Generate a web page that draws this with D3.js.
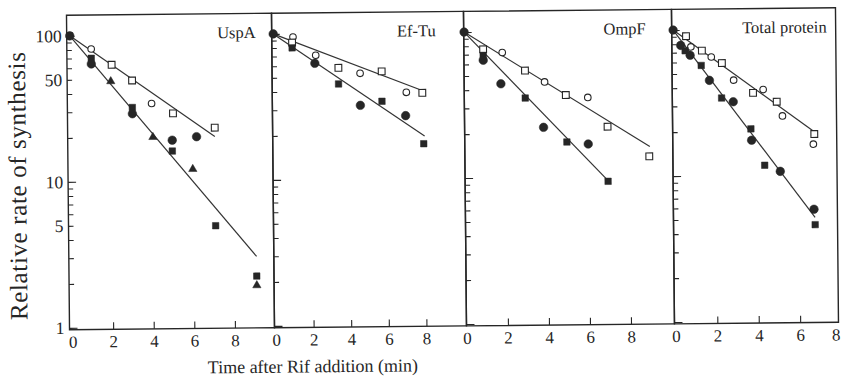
<!DOCTYPE html>
<html>
<head>
<meta charset="utf-8">
<script src="https://cdn.jsdelivr.net/npm/d3@7"></script>
<style>
  body { margin: 0; background: #fff; }
  svg { display: block; font-family: "Liberation Serif", "DejaVu Serif", serif; }
</style>
</head>
<body>
<svg width="842" height="381"></svg>
<script>
// values: [time after Rif (min), relative rate of synthesis]
const panelNames = ["UspA", "Ef-Tu", "OmpF", "Total protein"];
const xTickValues = [0, 2, 4, 6, 8];
const yTickLabels = [100, 50, 10, 5, 1];

const uspaOpenCircle = [[1.05, 81], [4.0, 34]];
const uspaOpenSquare = [[2.05, 63], [3.05, 49], [5.05, 29], [7.1, 23]];
const uspaFilledCircle = [[0, 100], [1.05, 64], [3.05, 29], [5.0, 19], [6.2, 20]];
const uspaFilledSquare = [[0, 100], [1.05, 70], [3.05, 32], [5.0, 16], [7.1, 4.9], [9.1, 2.2]];
const uspaTriangle = [[2.0, 48.5], [4.05, 20], [6.0, 12], [9.1, 1.9]];
const uspaOpenFit = [[0, 100], [7.1, 20]];
const uspaFilledFit = [[0, 100], [9.1, 3.0]];

const efOpenCircle = [[1.05, 95], [2.25, 71], [4.6, 53], [7.05, 39]];
const efOpenSquare = [[1.0, 87], [3.45, 58], [5.75, 54.5], [7.9, 38.6]];
const efFilledCircle = [[0, 100], [2.2, 62.5], [4.6, 32], [7.0, 27]];
const efFilledSquare = [[1.0, 80], [3.45, 45], [5.75, 34], [7.95, 17.3]];
const efOpenFit = [[0, 100], [8.0, 39.6]];
const efFilledFit = [[0, 100], [8.0, 19.5]];

const ompOpenCircle = [[1.85, 72], [3.9, 45], [6.0, 35]];
const ompOpenSquare = [[0.92, 76], [2.95, 54], [4.93, 36.5], [6.95, 22], [8.97, 13.7]];
const ompFilledCircle = [[0, 100], [0.92, 64], [1.77, 44], [3.83, 22], [6.0, 16.8]];
const ompFilledSquare = [[0.92, 69], [2.95, 35], [4.96, 17.4], [6.95, 9.3]];
const ompOpenFit = [[0, 100], [9.0, 16]];
const ompFilledFit = [[0, 100], [6.95, 9.4]];

const totOpenCircle = [[0.85, 76.5], [1.83, 65], [2.9, 45], [4.32, 38.6], [5.24, 25.4], [6.72, 16.2]];
const totOpenSquare = [[0.62, 90.6], [1.38, 72], [2.34, 59], [3.83, 36.7], [4.97, 31.8], [6.77, 19]];
const totFilledCircle = [[0, 100], [0.36, 78.5], [0.81, 67], [1.73, 45], [2.87, 32], [3.74, 17.4], [5.11, 10.6], [6.72, 5.8]];
const totFilledSquare = [[0.57, 72], [1.34, 57], [2.31, 34], [3.71, 20.8], [4.36, 11.7], [6.77, 4.55]];
const totOpenFit = [[0, 100], [6.77, 19.7]];
const totFilledFit = [[0, 100], [6.77, 5.1]];

const panelData = [
  { openCircle: uspaOpenCircle, openSquare: uspaOpenSquare, filledCircle: uspaFilledCircle,
    filledSquare: uspaFilledSquare, triangle: uspaTriangle, fits: [uspaOpenFit, uspaFilledFit] },
  { openCircle: efOpenCircle, openSquare: efOpenSquare, filledCircle: efFilledCircle,
    filledSquare: efFilledSquare, triangle: [], fits: [efOpenFit, efFilledFit] },
  { openCircle: ompOpenCircle, openSquare: ompOpenSquare, filledCircle: ompFilledCircle,
    filledSquare: ompFilledSquare, triangle: [], fits: [ompOpenFit, ompFilledFit] },
  { openCircle: totOpenCircle, openSquare: totOpenSquare, filledCircle: totFilledCircle,
    filledSquare: totFilledSquare, triangle: [], fits: [totOpenFit, totFilledFit] }
];

// layout
const frameTop = 11.5, frameBottom = 326;
const layout = [
  { left: 68, right: 273, domain: [-0.15, 9.95], labelX: 257 },
  { left: 273, right: 465, domain: [-0.08, 10.13], labelX: 437 },
  { left: 465, right: 673, domain: [-0.02, 10.12], labelX: 647 },
  { left: 673, right: 837, domain: [-0.07, 7.85], labelX: 828 }
];
const ink = "#262626";

const svg = d3.select("svg");
// the scanned figure is slightly tilted
const g = svg.append("g").attr("transform", "rotate(-0.55 452 170)");

const y = d3.scaleLog().domain([1, 100]).range([324.2, 32.2]);
const yMajor = [1, 10, 100];
const yMinor = d3.range(2, 10).concat(d3.range(20, 100, 10));

const sym = d3.symbol();

layout.forEach((L, i) => {
  const x = d3.scaleLinear().domain(L.domain).range([L.left, L.right]);
  const data = panelData[i];
  const p = g.append("g");

  // inward y ticks
  p.append("g").attr("transform", `translate(${L.left},0)`)
    .call(d3.axisLeft(y).tickValues(yMinor).tickSize(-5).tickFormat(""))
    .call(a => a.select(".domain").remove());
  p.append("g").attr("transform", `translate(${L.left},0)`)
    .call(d3.axisLeft(y).tickValues(yMajor).tickSize(-8).tickFormat(""))
    .call(a => a.select(".domain").remove());

  if (i === 0) {
    p.append("g").attr("transform", `translate(${L.left},0)`)
      .call(d3.axisLeft(y).tickValues(yTickLabels).tickSize(0).tickPadding(5).tickFormat(d3.format("d")))
      .call(a => a.select(".domain").remove())
      .selectAll("text").attr("font-size", 17.5).attr("font-family", "Liberation Serif").attr("fill", ink);
  }

  // x axis, ticks pointing up
  const xa = p.append("g").attr("transform", `translate(0,${frameBottom})`)
    .call(d3.axisBottom(x).tickValues(xTickValues).tickSize(-7).tickPadding(6))
    .call(a => a.select(".domain").remove());
  xa.selectAll(".tick text").attr("font-size", 17).attr("font-family", "Liberation Serif").attr("fill", ink);
  // the last label of the right panel sits past the frame: keep it inside the page
  xa.selectAll(".tick").filter(d => x(d) > L.right).select("text").attr("dx", -6);
  xa.selectAll(".tick").filter(d => x(d) > L.right || d === 0).select("line").remove();

  p.selectAll(".tick line").attr("stroke", ink).attr("stroke-width", 1.1);

  // frame
  p.append("rect")
    .attr("x", L.left).attr("y", frameTop)
    .attr("width", L.right - L.left).attr("height", frameBottom - frameTop)
    .attr("fill", "none").attr("stroke", ink).attr("stroke-width", 1.4);

  // fitted lines
  const line = d3.line().x(d => x(d[0])).y(d => y(d[1]));
  p.selectAll(".fit").data(data.fits).join("path")
    .attr("class", "fit")
    .attr("d", line)
    .attr("fill", "none").attr("stroke", "#333").attr("stroke-width", 1.2);

  const drawMarks = (arr, type, size, filled) => {
    p.append("g").selectAll("path").data(arr).join("path")
      .attr("transform", d => `translate(${x(d[0])},${y(d[1])})`)
      .attr("d", sym.type(type).size(size)())
      .attr("fill", filled ? ink : "#fff")
      .attr("stroke", ink)
      .attr("stroke-width", filled ? 0.5 : 1.1);
  };
  drawMarks(data.openCircle, d3.symbolCircle, 34, false);
  drawMarks(data.openSquare, d3.symbolSquare, 46, false);
  drawMarks(data.filledSquare, d3.symbolSquare, 42, true);
  drawMarks(data.filledCircle, d3.symbolCircle, 58, true);
  drawMarks(data.triangle, d3.symbolTriangle, 30, true);

  p.append("text")
    .attr("x", L.labelX).attr("y", 36)
    .attr("text-anchor", "end")
    .attr("font-size", 16.5).attr("fill", ink)
    .text(panelNames[i]);
});

g.append("text")
  .attr("transform", "translate(26,182) rotate(-90)")
  .attr("text-anchor", "middle")
  .attr("font-size", 25)
  .attr("textLength", 268).attr("lengthAdjust", "spacing")
  .attr("fill", ink)
  .text("Relative rate of synthesis");

g.append("text")
  .attr("x", 311).attr("y", 371)
  .attr("text-anchor", "middle")
  .attr("font-size", 18).attr("fill", ink)
  .text("Time after Rif addition (min)");
</script>
</body>
</html>
